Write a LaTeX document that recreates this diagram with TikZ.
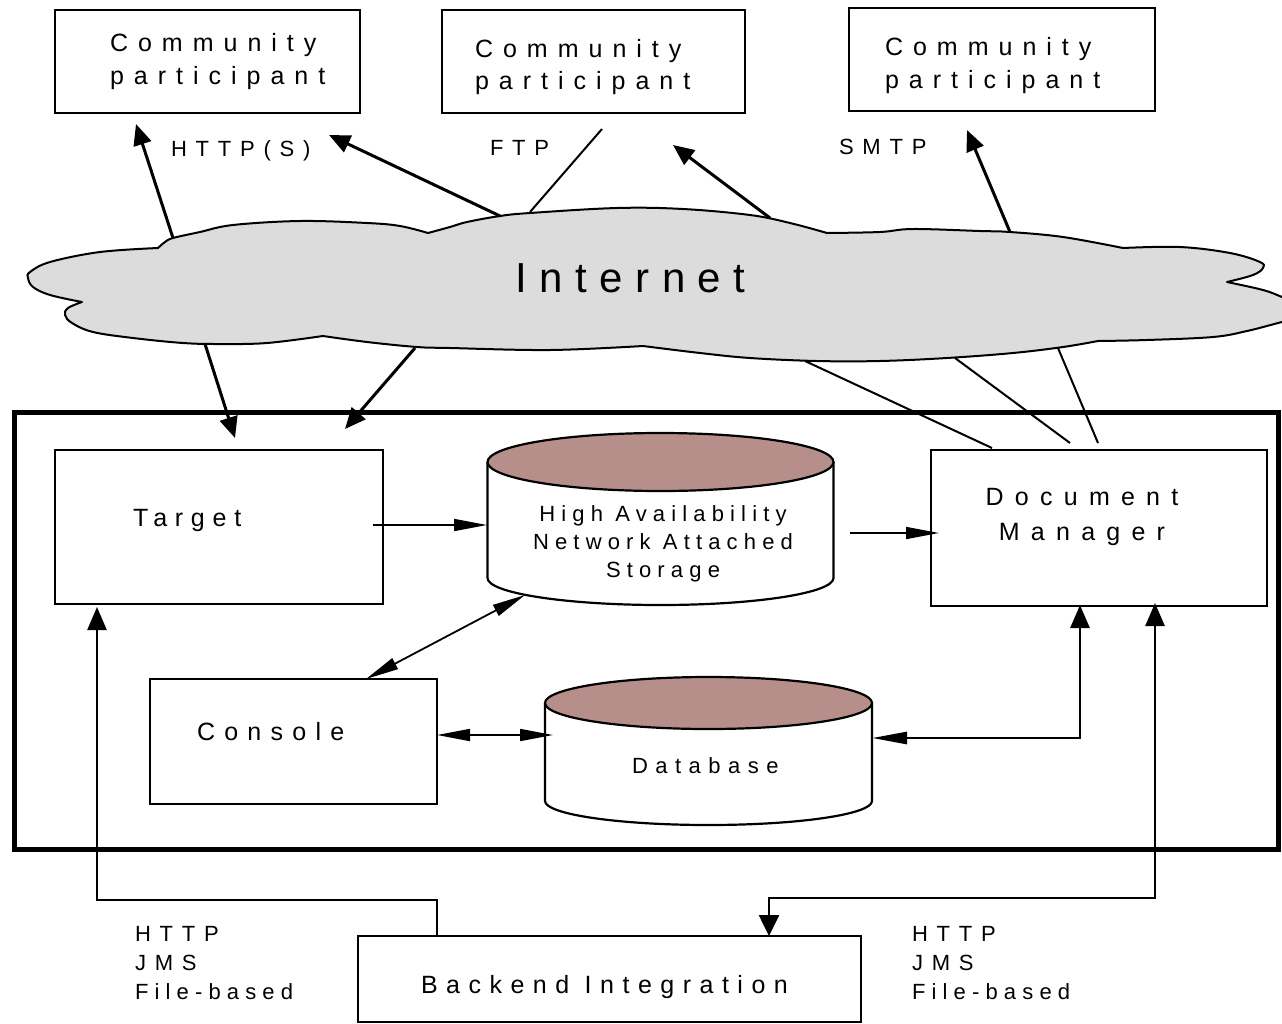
\documentclass[tikz,border=0pt]{standalone}
\usepackage{fontspec}
\setmainfont{Liberation Sans}
\usetikzlibrary{arrows.meta}
\definecolor{cloudgray}{RGB}{220,220,220}
\definecolor{diskrose}{RGB}{182,142,138}
\newcommand\lsp[1]{\addfontfeature{LetterSpace=#1}}
\newcommand\fsz[2]{\fontsize{#1pt}{#2pt}\selectfont}
\begin{document}
\begin{tikzpicture}[x=1pt,y=-1pt,
  box/.style={draw, line width=2pt, inner sep=0pt, outer sep=0pt},
  txt/.style={inner sep=0pt, outer sep=0pt},
  cloudarr/.style={line width=3pt, -{Triangle[length=21pt,width=18pt]}},
  cloudline/.style={line width=2pt},
  thinarr/.style={line width=1.6pt, -{Triangle[length=33pt,width=12pt]}},
  dblthin/.style={line width=1.8pt, {Triangle[length=33pt,width=12pt]}-{Triangle[length=33pt,width=12pt]}},
  busarr/.style={line width=2.6pt},
  disk/.style={line width=2.2pt}
]
\useasboundingbox (0,0) rectangle (1282,1023);

% outer frame
\node[draw, line width=5pt, inner sep=0pt, minimum width=1264pt, minimum height=437pt] (frame) at (646,630.5) {};

% cloud
\begin{scope}
\clip (0,0) rectangle (1282,1023);
\draw[line width=2pt, fill=cloudgray, line join=round]
  plot[smooth, tension=0.6] coordinates {(158,248) (165,242) (173,238) (200,232) (233,225) (300,221) (367,223) (400,226) (428,233)}
  -- plot[smooth, tension=0.6] coordinates {(428,233) (450,227) (467,222) (500,216) (530,213) (617,208) (683,209) (750,215) (790,223) (827,233)}
  -- plot[smooth, tension=0.6] coordinates {(827,233) (880,232) (913,229) (980,231) (1010,232) (1063,237) (1123,248)}
  -- plot[smooth, tension=0.6] coordinates {(1123,248) (1180,247) (1230,253) (1260,262) (1263,268) (1253,275) (1227,282)}
  -- plot[smooth, tension=0.6] coordinates {(1227,282) (1263,290) (1282,297) (1300,305) (1300,318) (1282,322) (1247,331) (1213,337) (1147,340) (1098,341)}
  -- plot[smooth, tension=0.6] coordinates {(1098,341) (1063,347) (1013,353) (947,358) (880,361) (817,361) (750,358) (700,353) (643,346)}
  -- plot[smooth, tension=0.6] coordinates {(643,346) (550,350) (450,348) (417,347) (367,342) (323,336)}
  -- plot[smooth, tension=0.6] coordinates {(323,336) (267,343) (220,344) (183,343) (133,338) (93,332) (72,323) (65,315) (68,308) (82,302)}
  -- plot[smooth, tension=0.6] coordinates {(82,302) (50,295) (33,287) (28,278) (30,272) (50,262) (100,252) (158,248)}
  -- cycle;
\end{scope}
\node[txt, anchor=base west, font=\fsz{42}{50}\lsp{30}] (internet) at (515,292) {Internet};

% community participants
\node[box, minimum width=305pt, minimum height=103pt] (cp1) at (207.5,61.5) {};
\node[box, minimum width=303pt, minimum height=103pt] (cp2) at (593.5,61.5) {};
\node[box, minimum width=306pt, minimum height=103pt] (cp3) at (1002,59.5) {};
\node[txt, anchor=north west, align=left, font=\fsz{25}{33}\lsp{40}] (cp1t) at (110,33) {Community\\participant};
\node[txt, anchor=north west, align=left, font=\fsz{25}{32}\lsp{40}] (cp2t) at (475,39) {Community\\participant};
\node[txt, anchor=north west, align=left, font=\fsz{25}{33}\lsp{40}] (cp3t) at (885,37) {Community\\participant};

% protocol labels
\node[txt, anchor=base west, font=\fsz{22}{28}\lsp{40}] (http) at (171,156) {HTTP(S)};
\node[txt, anchor=base west, font=\fsz{22}{28}\lsp{40}] (ftp) at (490,155) {FTP};
\node[txt, anchor=base west, font=\fsz{22}{28}\lsp{40}] (smtp) at (839,154) {SMTP};

% inner components
\node[box, minimum width=328pt, minimum height=154pt] (target) at (219,527) {};
\node[txt, anchor=base west, font=\fsz{25}{33}\lsp{31}] (targett) at (133,526) {Target};
\node[box, minimum width=336pt, minimum height=156pt] (dm) at (1099,528) {};
\node[txt, anchor=north, align=center, font=\fsz{25}{35}\lsp{45}] (dmt) at (1082,488) {Document\\Manager};
\node[box, minimum width=287pt, minimum height=125pt] (console) at (293.5,741.5) {};
\node[txt, anchor=base west, font=\fsz{25}{33}\lsp{37}] (consolet) at (197,740) {Console};

% NAS cylinder
\path[disk, draw, fill=white] (487.5,462) -- (487.5,578) arc[start angle=180, end angle=0, x radius=173, y radius=27] -- (833.5,462);
\draw[disk, fill=diskrose] (660.5,462) ellipse [x radius=173, y radius=29];
\node[txt, anchor=north, align=center, font=\fsz{22}{28}\lsp{28}] (nas) at (663,506) {High Availability\\Network Attached\\Storage};

% Database cylinder
\path[disk, draw, fill=white] (545,703) -- (545,801) arc[start angle=180, end angle=0, x radius=163.5, y radius=24] -- (872,703);
\draw[disk, fill=diskrose] (708.5,703) ellipse [x radius=163.5, y radius=26];
\node[txt, anchor=base west, font=\fsz{22}{28}\lsp{34}] (db) at (632,773) {Database};

% backend
\node[box, minimum width=503pt, minimum height=86pt] (backend) at (609.5,979) {};
\node[txt, anchor=base west, font=\fsz{25}{33}\lsp{34}] (backendt) at (421,993) {Backend Integration};
\node[txt, anchor=north west, align=left, font=\fsz{22}{29}\lsp{40}] (protl) at (135,926) {HTTP\\JMS\\{\lsp{28}File-based}};
\node[txt, anchor=north west, align=left, font=\fsz{22}{29}\lsp{40}] (protr) at (912,926) {HTTP\\JMS\\{\lsp{28}File-based}};

% connector end points
\coordinate (ca) at (173,238); \coordinate (ta) at (136,124);
\coordinate (cb) at (500,216); \coordinate (tb) at (329,135);
\coordinate (cc) at (530,212); \coordinate (tc) at (602,129);
\coordinate (cd) at (770,218); \coordinate (td) at (673,145);
\coordinate (ce) at (1010,232); \coordinate (te) at (967,130);
\coordinate (cf) at (205,344); \coordinate (tf) at (235,438);
\coordinate (cg) at (415,348); \coordinate (tg) at (345,429);
\coordinate (ch) at (805,361); \coordinate (th) at (992,448);
\coordinate (ci) at (955,358); \coordinate (ti) at (1070,443);
\coordinate (cj) at (1058,348); \coordinate (tj) at (1098,443);

\draw[cloudarr] (ca) -- (ta);
\draw[cloudarr] (cb) -- (tb);
\draw[cloudline] (cc) -- (tc);
\draw[cloudarr] (cd) -- (td);
\draw[cloudarr] (ce) -- (te);
\draw[cloudarr] (cf) -- (tf);
\draw[cloudarr] (cg) -- (tg);
\draw[cloudline] (th) -- (ch);
\draw[cloudline] (ti) -- (ci);
\draw[cloudline] (tj) -- (cj);

% internal connectors
\coordinate (tgo) at (373,525); \coordinate (nasin) at (487,525);
\coordinate (nasout) at (850,533); \coordinate (dmin) at (939,533);
\coordinate (nasb) at (525,595); \coordinate (cont) at (366,679);
\coordinate (conr) at (437,735); \coordinate (dbl) at (553,735);
\coordinate (dbr) at (872,738); \coordinate (dmb1) at (1080,605);
\coordinate (dmb2) at (1155,603); \coordinate (bet) at (769,936);
\coordinate (bel) at (437,936); \coordinate (tgb) at (97,607);

\draw[thinarr] (tgo) -- (nasin);
\draw[thinarr] (nasout) -- (dmin);
\draw[dblthin] (nasb) -- (cont);
\draw[dblthin] (conr) -- (dbl);
\draw[line width=2.8pt, {Triangle[length=35pt,width=12pt]}-{Triangle[length=23pt,width=19pt]}] (dbr) -- (dmb1 |- dbr) -- (dmb1);
\draw[busarr, {Triangle[length=21pt,width=20pt]}-{Triangle[length=23pt,width=19pt]}] (bet) -- ++(0,-38) -| (dmb2);
\draw[busarr, -{Triangle[length=23pt,width=19pt]}] (bel) -- ++(0,-36) -| (tgb);
\end{tikzpicture}
\end{document}
